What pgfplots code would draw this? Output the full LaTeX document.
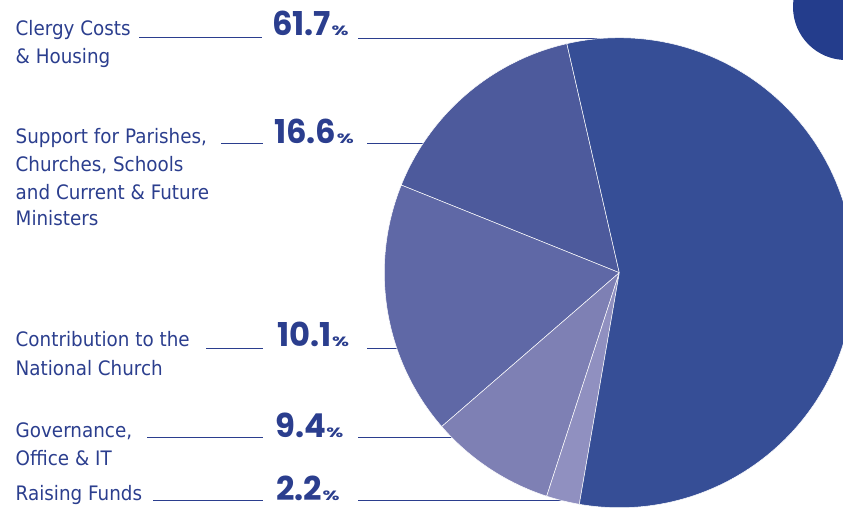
\documentclass[border=0pt]{standalone}
\usepackage{pgfplots}
\pgfplotsset{compat=1.18}
\usepackage{fontspec}
\setmainfont{DejaVu Sans}[FakeStretch=0.92]
\newfontfamily\numfont{Poppins}[FakeStretch=0.98]
\newfontfamily\pctfont{Poppins}[FakeStretch=1.45]
\definecolor{txt}{HTML}{2B3E8E}
\definecolor{sA}{HTML}{364E96}
\definecolor{sB}{HTML}{4D5A9C}
\definecolor{sC}{HTML}{5F68A6}
\definecolor{sD}{HTML}{7E80B4}
\definecolor{sE}{HTML}{9090C0}
\definecolor{dot}{HTML}{243D8C}
\newcommand{\lab}{\fontsize{20}{23}\selectfont\color{txt}}
\newcommand{\num}[1]{{\numfont\bfseries\color{txt}\fontsize{33}{34}\selectfont #1\kern0.5bp\pctfont\bfseries\fontsize{13.5}{16}\selectfont\%}}
\begin{document}
\begin{tikzpicture}
\begin{axis}[name=ax, width=843bp, height=508bp, scale only axis,
  xmin=0, xmax=843, ymin=0, ymax=508, y dir=reverse,
  axis lines=none, clip=false]
% leader lines
\foreach \y/\a/\b in {37.5/139/262, 143.5/221/263, 348/206/263, 437.5/147/263, 500.5/153/263}{
  \edef\tmp{\noexpand\draw[txt, line width=0.9bp] (axis cs:\a,\y) -- (axis cs:\b,\y);}\tmp
}
\draw[txt, line width=0.9bp] (axis cs:358,38.3) -- (axis cs:620,38.3);
\draw[txt, line width=0.9bp] (axis cs:367,143.5) -- (axis cs:440,143.5);
\draw[txt, line width=0.9bp] (axis cs:367,348) -- (axis cs:410,348);
\draw[txt, line width=0.9bp] (axis cs:358,437.5) -- (axis cs:460,437.5);
\draw[txt, line width=0.9bp] (axis cs:358,500.5) -- (axis cs:580,500.5);
% corner circle
\fill[dot] (axis cs:846,7) circle[radius=53bp];
% pie slices: 61.7, 16.6, 10.1, 9.4, 2.2 (angles as drawn)
\foreach \s/\e/\c in {102.9/158.1/sB, 158.1/220.9/sC, 220.9/252.0/sD, 252.0/260.2/sE, 260.2/462.9/sA}{
  \edef\tmp{\noexpand\filldraw[fill=\c, draw=white, line width=0.5bp, line join=round] (axis cs:619.3,272.7) -- ++(\s:235bp) arc[start angle=\s, end angle=\e, radius=235bp] -- cycle;}\tmp
}
% labels
\node[anchor=base west, inner sep=0pt, font=\lab] at (axis cs:15.5,36) {Clergy Costs};
\node[anchor=base west, inner sep=0pt, font=\lab] at (axis cs:15.5,64) {\& Housing};
\node[anchor=base west, inner sep=0pt, font=\lab] at (axis cs:15.5,143.3) {Support for Parishes,};
\node[anchor=base west, inner sep=0pt, font=\lab] at (axis cs:15.5,171.5) {Churches, Schools};
\node[anchor=base west, inner sep=0pt, font=\lab] at (axis cs:15.5,199.3) {and Current \& Future};
\node[anchor=base west, inner sep=0pt, font=\lab] at (axis cs:15.5,225.5) {Ministers};
\node[anchor=base west, inner sep=0pt, font=\lab] at (axis cs:15.5,346.7) {Contribution to the};
\node[anchor=base west, inner sep=0pt, font=\lab] at (axis cs:15.5,375) {National Church};
\node[anchor=base west, inner sep=0pt, font=\lab] at (axis cs:15.5,437.3) {Governance,};
\node[anchor=base west, inner sep=0pt, font=\lab] at (axis cs:15.5,465) {Office \& IT};
\node[anchor=base west, inner sep=0pt, font=\lab] at (axis cs:15.5,500) {Raising Funds};
% values
\node[anchor=base west, inner sep=0pt] at (axis cs:272,36) {\num{61.7}};
\node[anchor=base west, inner sep=0pt] at (axis cs:274,143.3) {\num{16.6}};
\node[anchor=base west, inner sep=0pt] at (axis cs:277,346.7) {\num{10.1}};
\node[anchor=base west, inner sep=0pt] at (axis cs:275,437.3) {\num{9.4}};
\node[anchor=base west, inner sep=0pt] at (axis cs:276,500) {\num{2.2}};
\end{axis}
\pgfresetboundingbox
\useasboundingbox (ax.south west) rectangle (ax.north east);
\end{tikzpicture}
\end{document}
